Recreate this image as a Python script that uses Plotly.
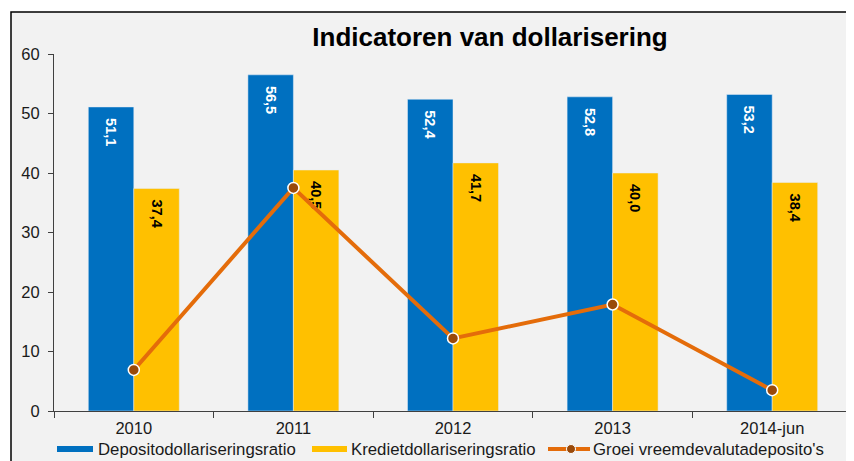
import plotly.graph_objects as go

categories = ["2010", "2011", "2012", "2013", "2014-jun"]
deposito = [51.1, 56.5, 52.4, 52.8, 53.2]
krediet = [37.4, 40.5, 41.7, 40.0, 38.4]
groei = [6.9, 37.5, 12.2, 17.9, 3.5]
y_ticks = [0, 10, 20, 30, 40, 50, 60]
series_names = ["Depositodollariseringsratio", "Kredietdollariseringsratio", "Groei vreemdevalutadeposito's"]
title_text = "Indicatoren van dollarisering"

# page is 854x461, body has an 8px margin
OFF = 8
W, H = 854 - OFF, 461 - OFF
PL, PR, PT, PB = 54, 852, 54, 411  # plot area in page pixels
ML, MT = PL - OFF, PT - OFF
MR = W - (PR - OFF)
MB = H - (PB - OFF)
PW, PH = PR - PL, PB - PT

def px_x(x):
    return (x - PL) / PW

def px_y(y):
    return (PB - y) / PH

BLUE = "#0070C0"
YELLOW = "#FFC000"
ORANGE = "#E46C0A"
BROWN = "#9A4A0A"
FONT = "Liberation Sans, Arial, sans-serif"
TXT = "#1a1a1a"
AX = "#404040"

fig = go.Figure()
fig.add_trace(go.Bar(
    x=categories, y=deposito, name=series_names[0], marker_color=BLUE,
    texttemplate="\u00a0\u00a0%{y:.1f}", textposition="inside", insidetextanchor="end",
    textangle=90, textfont=dict(family=FONT, size=14.5, color="white", weight="bold"),
    showlegend=False,
))
fig.add_trace(go.Bar(
    x=categories, y=krediet, name=series_names[1], marker_color=YELLOW,
    texttemplate="\u00a0\u00a0%{y:.1f}", textposition="inside", insidetextanchor="end",
    textangle=90, textfont=dict(family=FONT, size=14.5, color="black", weight="bold"),
    showlegend=False,
))
fig.add_trace(go.Scatter(
    x=categories, y=groei, name=series_names[2], mode="lines+markers",
    line=dict(color=ORANGE, width=4),
    marker=dict(size=11, color=BROWN, line=dict(color="white", width=1.5)),
    showlegend=False,
))

shapes = [
    dict(type="rect", xref="paper", yref="paper", layer="below",
         x0=px_x(11), x1=px_x(900), y0=px_y(520), y1=px_y(12),
         fillcolor="#F2F2F2", line=dict(color="black", width=1.5)),
    dict(type="rect", xref="paper", yref="paper",
         x0=px_x(57), x1=px_x(93), y0=px_y(452), y1=px_y(446),
         fillcolor=BLUE, line=dict(width=0)),
    dict(type="rect", xref="paper", yref="paper",
         x0=px_x(312), x1=px_x(347), y0=px_y(452), y1=px_y(446),
         fillcolor=YELLOW, line=dict(width=0)),
    dict(type="line", xref="paper", yref="paper",
         x0=px_x(548), x1=px_x(590), y0=px_y(449), y1=px_y(449),
         line=dict(color=ORANGE, width=4)),
    dict(type="circle", xref="paper", yref="paper",
         x0=px_x(566.5), x1=px_x(575.5), y0=px_y(453.5), y1=px_y(444.5),
         fillcolor=BROWN, line=dict(color="white", width=1)),
]

annotations = [
    dict(text=series_names[0], x=px_x(96), y=px_y(449), xref="paper", yref="paper",
         xanchor="left", yanchor="middle", showarrow=False,
         font=dict(family=FONT, size=16.8, color=TXT)),
    dict(text=series_names[1], x=px_x(349), y=px_y(449), xref="paper", yref="paper",
         xanchor="left", yanchor="middle", showarrow=False,
         font=dict(family=FONT, size=16.8, color=TXT)),
    dict(text=series_names[2], x=px_x(591), y=px_y(449), xref="paper", yref="paper",
         xanchor="left", yanchor="middle", showarrow=False,
         font=dict(family=FONT, size=16.8, color=TXT)),
]

fig.update_layout(
    width=W, height=H,
    margin=dict(l=ML, r=MR, t=MT, b=MB, pad=0),
    paper_bgcolor="white",
    plot_bgcolor="rgba(0,0,0,0)",
    separators=",.",
    barmode="group", bargap=0.43, bargroupgap=0,
    title=dict(text=title_text, x=(490 - OFF) / W, y=1 - (37 - OFF) / H,
               xref="container", yref="container", xanchor="center", yanchor="middle",
               font=dict(family=FONT, size=26, color="black", weight="bold")),
    shapes=shapes,
    annotations=annotations,
    showlegend=False,
)
fig.update_xaxes(
    type="category", tickson="boundaries", ticks="outside", ticklen=6, tickcolor=AX,
    showline=True, linecolor=AX, linewidth=1, showgrid=False,
    ticklabelstandoff=2,
    tickfont=dict(family=FONT, size=16.5, color=TXT),
)
fig.update_yaxes(
    range=[0, 60], tickvals=y_ticks, ticks="outside", ticklen=5, tickcolor=AX,
    showline=True, linecolor=AX, linewidth=1, showgrid=False, zeroline=False,
    ticklabelstandoff=5,
    tickfont=dict(family=FONT, size=16.5, color=TXT),
)

fig.write_html("out.html")
